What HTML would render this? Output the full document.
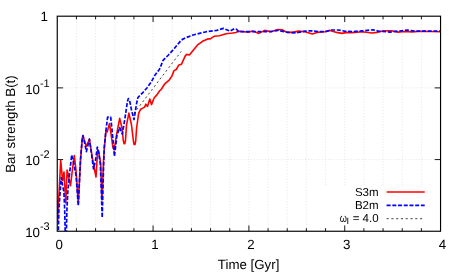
<!DOCTYPE html>
<html><head><meta charset="utf-8"><title>Bar strength</title>
<style>
html,body{margin:0;padding:0;background:#fff;}
svg{display:block}
.t{will-change:transform}
text{font-family:"Liberation Sans",sans-serif;font-size:13.3px;fill:#000;text-rendering:geometricPrecision}
</style></head><body>
<svg width="463" height="274" viewBox="0 0 463 274">
<rect width="463" height="274" fill="#fff"/>
<defs><clipPath id="c"><rect x="57.25" y="16.2" width="383.3" height="215.05"/></clipPath></defs>
<g stroke="#d2d2d2" stroke-width="0.7" stroke-dasharray="0.8 2.05" fill="none">
<line x1="76.42" y1="16.20" x2="76.42" y2="231.25"/>
<line x1="95.58" y1="16.20" x2="95.58" y2="231.25"/>
<line x1="114.75" y1="16.20" x2="114.75" y2="231.25"/>
<line x1="133.91" y1="16.20" x2="133.91" y2="231.25"/>
<line x1="153.07" y1="16.20" x2="153.07" y2="231.25"/>
<line x1="172.24" y1="16.20" x2="172.24" y2="231.25"/>
<line x1="191.41" y1="16.20" x2="191.41" y2="231.25"/>
<line x1="210.57" y1="16.20" x2="210.57" y2="231.25"/>
<line x1="229.74" y1="16.20" x2="229.74" y2="231.25"/>
<line x1="248.90" y1="16.20" x2="248.90" y2="231.25"/>
<line x1="268.07" y1="16.20" x2="268.07" y2="231.25"/>
<line x1="287.23" y1="16.20" x2="287.23" y2="231.25"/>
<line x1="306.39" y1="16.20" x2="306.39" y2="231.25"/>
<line x1="325.56" y1="16.20" x2="325.56" y2="231.25"/>
<line x1="344.73" y1="16.20" x2="344.73" y2="231.25"/>
<line x1="363.89" y1="16.20" x2="363.89" y2="231.25"/>
<line x1="383.06" y1="16.20" x2="383.06" y2="231.25"/>
<line x1="402.22" y1="16.20" x2="402.22" y2="231.25"/>
<line x1="421.39" y1="16.20" x2="421.39" y2="231.25"/>
<line x1="57.25" y1="87.88" x2="440.55" y2="87.88"/>
<line x1="57.25" y1="159.57" x2="440.55" y2="159.57"/>
</g>
<rect x="316" y="185.7" width="118" height="44" fill="#fff"/>
<g clip-path="url(#c)" fill="none" stroke-linejoin="round" stroke-linecap="butt">
<polyline points="57.0,200.0 57.6,221.0 58.3,205.0 59.2,190.0 60.7,160.5 62.6,180.5 64.0,172.0 65.8,203.0 67.1,170.0 70.5,185.6 73.0,165.0 74.3,155.6 76.0,170.0 78.3,203.0 80.5,160.0 82.3,138.0 83.0,135.6 83.6,138.0 86.4,146.4 89.4,139.2 92.7,160.0 96.0,177.0 97.7,149.5 98.8,152.0 100.7,163.7 101.4,185.0 102.0,200.0 103.5,162.0 104.3,147.7 105.9,131.0 107.2,132.0 109.5,123.5 110.5,130.0 112.9,147.3 114.2,150.0 116.5,135.0 119.7,118.4 122.0,128.0 123.3,140.5 124.0,143.6 124.8,143.6 125.5,140.5 126.5,125.0 128.9,113.1 131.5,125.0 133.4,141.0 134.1,144.5 135.0,144.5 135.7,141.0 136.6,128.0 138.7,113.1 140.7,109.2 143.3,107.9 144.6,107.1 145.8,104.2 147.5,106.4 149.8,99.0 151.5,104.6 154.1,98.0 156.9,94.9 159.5,91.0 161.5,89.0 164.8,83.8 169.4,79.8 172.0,75.9 174.0,70.6 176.3,69.5 178.9,64.9 181.5,64.2 185.4,55.7 186.8,54.4 189.4,55.0 197.3,45.2 202.5,41.3 207.8,38.9 210.2,38.9 214.1,36.3 219.4,35.7 226.0,33.7 232.5,33.0 236.0,32.5 238.5,31.1 242.0,31.5 248.0,32.1 253.0,31.0 258.9,33.4 264.8,30.4 271.0,31.7 278.0,29.5 282.0,29.8 287.1,32.4 292.0,32.4 298.6,31.1 305.0,31.7 312.4,33.9 317.0,32.4 324.8,31.7 330.0,30.4 336.6,32.4 341.9,33.4 347.1,32.4 352.0,32.6 362.5,31.7 371.7,33.0 377.0,32.4 383.5,30.8 391.4,30.8 398.0,32.1 404.5,31.5 412.0,31.9 421.0,31.3 430.0,31.5 440.8,31.7" stroke="#ff0000" stroke-width="1.6"/>
<polyline points="58.2,236.0 58.9,210.0 60.1,192.0 61.3,177.5 62.2,183.0 63.9,192.0 64.7,210.0 65.3,236.0 66.3,236.0 66.9,210.0 67.8,192.0 69.3,176.0 71.7,154.9 73.5,162.0 76.0,175.0 78.3,205.8 80.5,160.0 82.3,138.0 83.0,135.6 83.6,138.0 86.4,151.6 89.4,139.2 91.7,155.0 93.5,169.0 95.6,160.0 97.3,147.0 98.4,151.0 100.3,163.7 101.2,187.0 102.2,217.7 103.6,165.0 104.3,147.7 106.0,130.0 107.6,117.2 110.7,117.2 112.0,129.7 113.2,142.0 114.4,156.3 117.0,135.0 119.7,127.6 122.3,134.0 125.0,118.0 127.4,101.5 128.4,98.6 129.6,100.5 131.5,110.0 134.0,119.5 136.6,103.4 137.9,97.5 143.1,92.3 147.1,87.7 151.0,82.4 154.9,75.2 159.5,69.3 163.1,60.3 168.4,55.0 174.3,48.5 181.5,39.9 186.6,37.4 193.1,35.0 206.3,31.7 216.8,30.4 223.3,28.4 229.9,31.1 234.5,28.6 236.5,29.3 238.6,31.7 250.0,31.7 270.0,31.7 278.0,30.4 287.0,32.2 296.0,33.0 305.1,31.1 311.7,30.8 318.3,31.7 325.0,31.7 331.4,30.0 338.0,30.0 344.5,31.1 352.0,31.7 362.5,30.8 373.0,29.8 378.3,31.1 390.0,32.1 398.0,31.1 407.0,30.2 414.7,31.1 440.8,31.1" stroke="#0000ff" stroke-width="1.7" stroke-dasharray="4 1.72"/>
<line x1="133.9" y1="113.4" x2="181.2" y2="51.4" stroke="#111" stroke-width="0.8" stroke-dasharray="2.1 2.67"/>
</g>
<g stroke="#000" stroke-width="0.9" fill="none">
<line x1="76.42" y1="231.25" x2="76.42" y2="228.15"/>
<line x1="76.42" y1="16.20" x2="76.42" y2="19.30"/>
<line x1="95.58" y1="231.25" x2="95.58" y2="228.15"/>
<line x1="95.58" y1="16.20" x2="95.58" y2="19.30"/>
<line x1="114.75" y1="231.25" x2="114.75" y2="228.15"/>
<line x1="114.75" y1="16.20" x2="114.75" y2="19.30"/>
<line x1="133.91" y1="231.25" x2="133.91" y2="228.15"/>
<line x1="133.91" y1="16.20" x2="133.91" y2="19.30"/>
<line x1="153.07" y1="231.25" x2="153.07" y2="225.45"/>
<line x1="153.07" y1="16.20" x2="153.07" y2="22.00"/>
<line x1="172.24" y1="231.25" x2="172.24" y2="228.15"/>
<line x1="172.24" y1="16.20" x2="172.24" y2="19.30"/>
<line x1="191.41" y1="231.25" x2="191.41" y2="228.15"/>
<line x1="191.41" y1="16.20" x2="191.41" y2="19.30"/>
<line x1="210.57" y1="231.25" x2="210.57" y2="228.15"/>
<line x1="210.57" y1="16.20" x2="210.57" y2="19.30"/>
<line x1="229.74" y1="231.25" x2="229.74" y2="228.15"/>
<line x1="229.74" y1="16.20" x2="229.74" y2="19.30"/>
<line x1="248.90" y1="231.25" x2="248.90" y2="225.45"/>
<line x1="248.90" y1="16.20" x2="248.90" y2="22.00"/>
<line x1="268.07" y1="231.25" x2="268.07" y2="228.15"/>
<line x1="268.07" y1="16.20" x2="268.07" y2="19.30"/>
<line x1="287.23" y1="231.25" x2="287.23" y2="228.15"/>
<line x1="287.23" y1="16.20" x2="287.23" y2="19.30"/>
<line x1="306.39" y1="231.25" x2="306.39" y2="228.15"/>
<line x1="306.39" y1="16.20" x2="306.39" y2="19.30"/>
<line x1="325.56" y1="231.25" x2="325.56" y2="228.15"/>
<line x1="325.56" y1="16.20" x2="325.56" y2="19.30"/>
<line x1="344.73" y1="231.25" x2="344.73" y2="225.45"/>
<line x1="344.73" y1="16.20" x2="344.73" y2="22.00"/>
<line x1="363.89" y1="231.25" x2="363.89" y2="228.15"/>
<line x1="363.89" y1="16.20" x2="363.89" y2="19.30"/>
<line x1="383.06" y1="231.25" x2="383.06" y2="228.15"/>
<line x1="383.06" y1="16.20" x2="383.06" y2="19.30"/>
<line x1="402.22" y1="231.25" x2="402.22" y2="228.15"/>
<line x1="402.22" y1="16.20" x2="402.22" y2="19.30"/>
<line x1="421.39" y1="231.25" x2="421.39" y2="228.15"/>
<line x1="421.39" y1="16.20" x2="421.39" y2="19.30"/>
<line x1="57.25" y1="87.88" x2="63.05" y2="87.88"/>
<line x1="440.55" y1="87.88" x2="434.75" y2="87.88"/>
<line x1="57.25" y1="159.57" x2="63.05" y2="159.57"/>
<line x1="440.55" y1="159.57" x2="434.75" y2="159.57"/>
</g>
<rect x="57.25" y="16.2" width="383.30" height="215.05" stroke="#000" stroke-width="1.15" fill="none"/>
<g class="t">
<text x="48" y="20.8" text-anchor="end">1</text>
<text x="40" y="93.6" text-anchor="end">10</text><text x="39.9" y="86.6" style="font-size:11px">-1</text>
<text x="40" y="165.3" text-anchor="end">10</text><text x="39.9" y="158.3" style="font-size:11px">-2</text>
<text x="40" y="237.0" text-anchor="end">10</text><text x="39.9" y="230.0" style="font-size:11px">-3</text>
<text x="59.25" y="248.6" text-anchor="middle">0</text>
<text x="155.07" y="248.6" text-anchor="middle">1</text>
<text x="250.90" y="248.6" text-anchor="middle">2</text>
<text x="346.73" y="248.6" text-anchor="middle">3</text>
<text x="442.55" y="248.6" text-anchor="middle">4</text>
<text x="248.6" y="268.8" text-anchor="middle">Time [Gyr]</text>
<text transform="translate(14.8,124.1) rotate(-90)" text-anchor="middle">Bar strength B(t)</text>
</g>
<g class="t">
<text x="378.6" y="195.9" text-anchor="end" style="font-size:11.5px">S3m</text>
<text x="378.6" y="208.8" text-anchor="end" style="font-size:11.5px">B2m</text>
<text transform="translate(347.0,221.5) scale(0.8,1)" text-anchor="end" style="font-size:11.5px">&#969;</text>
<text x="347.9" y="224.0" text-anchor="middle" style="font-size:9.2px">I</text>
<text x="378.6" y="221.5" text-anchor="end" style="font-size:11.5px">= 4.0</text>
</g>
<g fill="none">
<line x1="386.6" y1="192" x2="424.7" y2="192" stroke="#ff0000" stroke-width="1.6"/>
<line x1="386.6" y1="205.4" x2="424.7" y2="205.4" stroke="#0000ff" stroke-width="1.7" stroke-dasharray="4 1.72"/>
<line x1="386.6" y1="218.7" x2="424.7" y2="218.7" stroke="#111" stroke-width="0.8" stroke-dasharray="2.1 2.67"/>
</g>
</svg>
</body></html>
